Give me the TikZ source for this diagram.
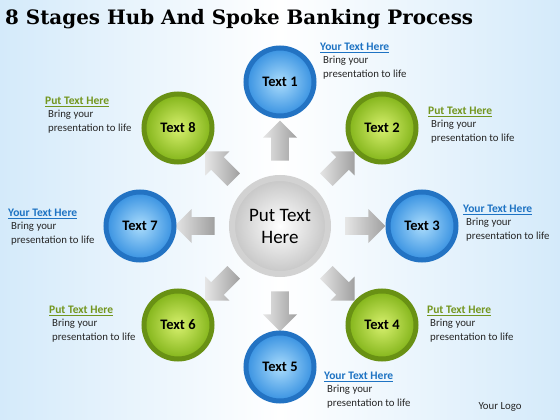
\documentclass[tikz,border=0pt]{standalone}
\usepackage{fontspec}
\setmainfont{Carlito}
\newfontfamily\titlefont{DejaVu Serif}
\usetikzlibrary{positioning,shapes.arrows}

\definecolor{ringblue}{RGB}{35,115,195}
\definecolor{lightblue}{RGB}{170,220,252}
\definecolor{midblue}{RGB}{55,145,225}
\definecolor{ringgreen}{RGB}{105,145,20}
\definecolor{lightgreen}{RGB}{215,240,110}
\definecolor{midgreen}{RGB}{130,180,25}
\definecolor{headblue}{RGB}{30,115,195}
\definecolor{headgreen}{RGB}{115,150,30}
\definecolor{bgblue}{RGB}{212,234,250}

\tikzset{
  stage/.style={circle, minimum size=68pt, line width=5pt,
    font=\bfseries\fontsize{14.5}{17}\selectfont},
  bluestage/.style={stage, draw=ringblue, inner color=lightblue, outer color=midblue},
  greenstage/.style={stage, draw=ringgreen, inner color=lightgreen, outer color=midgreen},
  hubnode/.style={circle, minimum size=96pt, line width=6pt, draw=gray!35,
    inner color=white, outer color=gray!45, align=center,
    font=\fontsize{19}{22}\selectfont},
  spoke/.style={single arrow, minimum height=40pt, minimum width=34pt,
    inner sep=8.5pt, single arrow head extend=8pt, single arrow head indent=0pt,
    left color=gray!20, right color=gray!75},
  bluehead/.style={anchor=west, inner sep=0pt, text=headblue,
    font=\bfseries\fontsize{11.5}{13}\selectfont},
  greenhead/.style={bluehead, text=headgreen},
  body/.style={inner sep=0pt, align=left, text=black!85,
    font=\fontsize{10.8}{13.5}\selectfont}
}

\begin{document}
\begin{tikzpicture}[x=1pt,y=-1pt]
  \useasboundingbox (0,0) rectangle (560,420);
  \fill[left color=bgblue, right color=bgblue, middle color=white] (0,0) rectangle (560,420);

  \node[anchor=west, inner sep=0pt] (title) at (5,19)
    {\resizebox{468pt}{!}{\titlefont\bfseries 8 Stages Hub And Spoke Banking Process}};

  % hub and spokes
  \node[hubnode] (hub) at (280,226) {Put Text\\Here};
  \foreach \a in {0,45,...,315}
    \node[spoke, rotate=\a] (spoke\a) at ([shift={(-\a:81)}]hub.center) {};

  % stages
  \node[bluestage]  (s1) at (280,82)  {Text 1};
  \node[greenstage] (s2) at (382,128) {Text 2};
  \node[bluestage]  (s3) at (422,226) {Text 3};
  \node[greenstage] (s4) at (382,325) {Text 4};
  \node[bluestage]  (s5) at (280,367) {Text 5};
  \node[greenstage] (s6) at (178,325) {Text 6};
  \node[bluestage]  (s7) at (140,226) {Text 7};
  \node[greenstage] (s8) at (178,128) {Text 8};

  % captions
  \foreach \n/\x/\y/\kind/\txt in {1/320/48/bluehead/Your Text Here,
      2/428/112/greenhead/Put Text Here, 3/463/210/bluehead/Your Text Here,
      4/427/311/greenhead/Put Text Here, 5/324/377/bluehead/Your Text Here,
      6/49/311/greenhead/Put Text Here, 7/8/214/bluehead/Your Text Here,
      8/45/102/greenhead/Put Text Here} {
    \node[\kind] (head\n) at (\x,\y) {\underline{\txt}};
    \node[body, below right=3pt and 3pt of head\n.south west] (body\n)
      {Bring your\\presentation to life};
  }

  \node[body] (logo) at (500,407) {Your Logo};
\end{tikzpicture}
\end{document}
